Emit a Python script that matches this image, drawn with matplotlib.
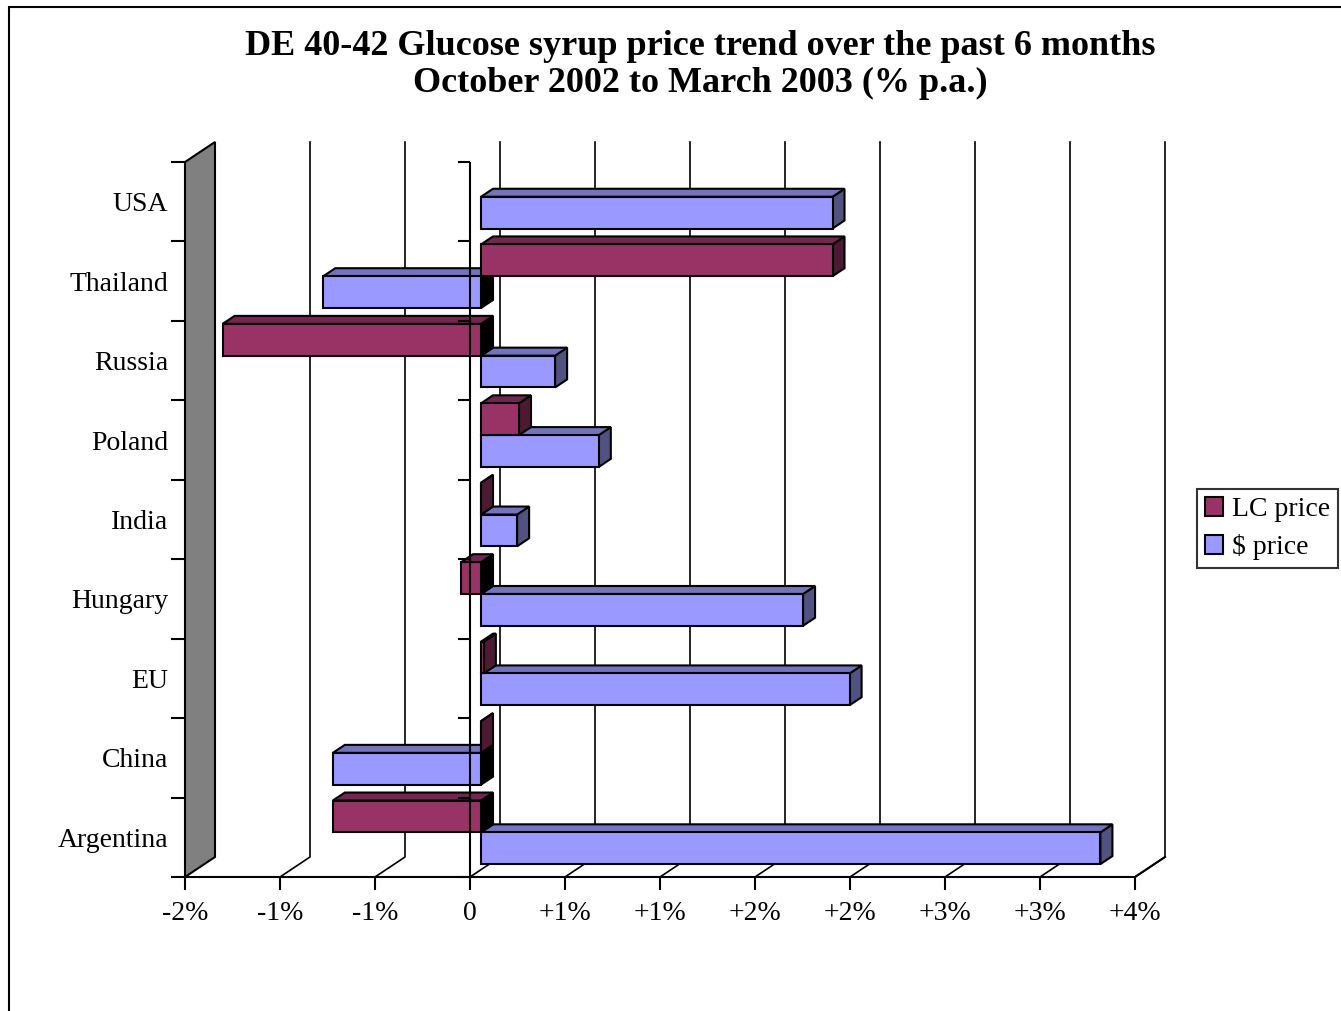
import matplotlib
matplotlib.use("Agg")
import matplotlib.pyplot as plt
import numpy as np
from matplotlib.patches import Polygon, Rectangle, Patch

# categories bottom -> top
categories = ["Argentina", "China", "EU", "Hungary", "India", "Poland", "Russia", "Thailand", "USA"]
lc_price = [-0.78, 0.0, 0.015, -0.105, 0.0, 0.2, -1.36, 1.85, np.nan]
usd_price = [3.26, -0.78, 1.94, 1.695, 0.19, 0.62, 0.39, -0.83, 1.85]
series_names = ["LC price", "$ price"]
xticks = [-1.5, -1.0, -0.5, 0.0, 0.5, 1.0, 1.5, 2.0, 2.5, 3.0, 3.5]
xtick_labels = ["-2%", "-1%", "-1%", "0", "+1%", "+1%", "+2%", "+2%", "+3%", "+3%", "+4%"]
title = "DE 40-42 Glucose syrup price trend over the past 6 months\nOctober 2002 to March 2003 (% p.a.)"

LC_COL = ("#993366", "#732650", "#4d1a33")
USD_COL = ("#9999ff", "#7373bf", "#525280")

plt.rcParams["font.family"] = ["Liberation Serif", "DejaVu Serif"]

W, H = 1341, 1011
fig = plt.figure(figsize=(W / 100, H / 100), dpi=100)
ax = fig.add_axes([185 / W, 134 / H, 950 / W, 715 / H])
ax.set_xlim(-1.5, 3.5)
ax.set_ylim(-0.5, len(categories) - 0.5)

# depth of the 3d box in data units (30 px right, 20 px up)
px_x = 950 / 5.0
px_y = 715 / len(categories)
DX, DY = 30 / px_x, 20 / px_y
f0, fd = 0.367, 0.4          # bar front position / bar depth as share of box depth
ox, oy = f0 * DX, f0 * DY
bx, by = fd * DX, fd * DY
bar_h = 0.4
grp_c = -0.03

ytop = len(categories) - 0.5

# back gridlines + floor diagonals
for v in xticks[1:]:
    ax.plot([v, v + DX, v + DX], [-0.5, -0.5 + DY, ytop + DY], color="black",
            lw=1.2, clip_on=False, zorder=1)

# left wall
ax.add_patch(Polygon([(-1.5, -0.5), (-1.5 + DX, -0.5 + DY), (-1.5 + DX, ytop + DY), (-1.5, ytop)],
                     closed=True, facecolor="#808080", edgecolor="black", lw=1.5,
                     clip_on=False, zorder=2))


def bar3d(v, yb, cols, z):
    if np.isnan(v):
        return
    x0, x1 = min(0, v) + ox, max(0, v) + ox
    y0, y1 = yb + oy, yb + bar_h + oy
    side = "black" if v < 0 else cols[2]
    ax.add_patch(Polygon([(x1, y0), (x1 + bx, y0 + by), (x1 + bx, y1 + by), (x1, y1)],
                         facecolor=side, edgecolor="black", lw=1.5, clip_on=False, zorder=z))
    ax.add_patch(Polygon([(x0, y1), (x1, y1), (x1 + bx, y1 + by), (x0 + bx, y1 + by)],
                         facecolor=cols[1], edgecolor="black", lw=1.5, clip_on=False, zorder=z))
    ax.add_patch(Rectangle((x0, y0), x1 - x0, bar_h, facecolor=cols[0], edgecolor="black",
                           lw=1.5, clip_on=False, zorder=z))


z = 3
for i in range(len(categories)):
    bar3d(usd_price[i], i + grp_c - bar_h, USD_COL, z)
    z += 0.01
    bar3d(lc_price[i], i + grp_c, LC_COL, z)
    z += 0.01

# zero axis on the front plane with category ticks
bounds = np.arange(-0.5, len(categories), 1.0)
ax.plot([0, 0], [-0.5, ytop], color="black", lw=1.5, zorder=6)
ax.plot(np.zeros_like(bounds), bounds, linestyle="none", marker=0, markersize=9,
        markeredgewidth=1.5, color="black", zorder=6, clip_on=False)

for s in ["top", "right"]:
    ax.spines[s].set_visible(False)
ax.spines["left"].set_visible(False)
ax.spines["bottom"].set_linewidth(1.5)
ax.spines["bottom"].set_zorder(6)
ax.plot([3.5, 3.5 + DX], [-0.5, -0.5 + DY], color="black", lw=1.5, clip_on=False, zorder=6)

ax.set_xticks(xticks, labels=xtick_labels, fontsize=20)
ax.tick_params(axis="x", direction="out", length=9.5, width=1.5, pad=8)
ax.set_yticks(bounds)
ax.set_yticklabels([])
ax.set_yticks(range(len(categories)), labels=categories, minor=True, fontsize=20)
ax.tick_params(axis="y", which="major", direction="out", length=10, width=1.5, left=True)
ax.tick_params(axis="y", which="minor", length=0, pad=12)
ax.set_facecolor("none")

fig.text(700 / W, 1 - 65 / H, title, ha="center", va="center", fontsize=26,
         fontweight="bold", linespacing=1.18)

handles = [Patch(facecolor=LC_COL[0], edgecolor="black", lw=1.5),
           Patch(facecolor=USD_COL[0], edgecolor="black", lw=1.5)]
leg = fig.legend(handles, series_names, loc="upper left",
                 bbox_to_anchor=(1197 / W, 1 - 489 / H), fontsize=20, frameon=True,
                 fancybox=False, edgecolor="black", handlelength=0.65, handleheight=0.65,
                 handletextpad=0.3, borderpad=0.3, labelspacing=0.42, borderaxespad=0)
leg.get_frame().set_linewidth(1.5)

# outer chart frame (left and top edges are inside the picture)
fig.add_artist(Rectangle((9 / W, -0.1), 2, 1.1 - 7 / H, transform=fig.transFigure,
                         fill=False, edgecolor="black", lw=1.5))

fig.savefig("out.png", dpi=100)
